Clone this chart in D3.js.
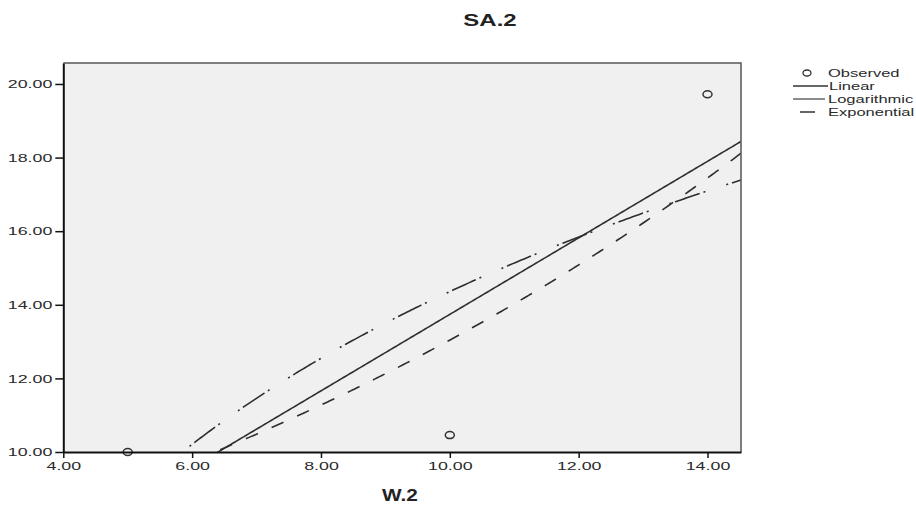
<!DOCTYPE html>
<html>
<head>
<meta charset="utf-8">
<script src="https://cdn.jsdelivr.net/npm/d3@7"></script>
<style>
  html, body { margin: 0; padding: 0; background: #fff; }
  svg { display: block; }
  text { font-family: "Liberation Sans", Arial, sans-serif; }
</style>
</head>
<body>
<svg id="chart" width="916" height="509"></svg>
<script>
// Observed cases
const observedX = [5, 10, 14];
const observedY = [10.0, 10.46, 19.72];

// Axis ticks
const xTicks = [4, 6, 8, 10, 12, 14];
const yTicks = [10, 12, 14, 16, 18, 20];

// Fitted models, legend order
const models = ["Linear", "Logarithmic", "Exponential"];

const sx = 1.55;      // horizontal stretch of tick lettering
const legendSx = 1.5; // horizontal stretch of legend lettering
const svg = d3.select("#chart");

const plotLeft = 63.3, plotRight = 741, plotTop = 63, plotBottom = 452;
const x = d3.scaleLinear().domain([4, 14.52]).range([plotLeft, plotRight]);
const y = d3.scaleLinear().domain([10, 20.57]).range([plotBottom, plotTop]);

// Least squares on transformed variables
function ols(xs, ys) {
  const n = xs.length;
  const mx = d3.mean(xs), my = d3.mean(ys);
  let sxy = 0, sxx = 0;
  for (let i = 0; i < n; i++) {
    sxy += (xs[i] - mx) * (ys[i] - my);
    sxx += (xs[i] - mx) ** 2;
  }
  const b = sxy / sxx;
  return { a: my - b * mx, b };
}
const lin = ols(observedX, observedY);
const lgf = ols(observedX.map(Math.log), observedY);
const exf = ols(observedX, observedY.map(Math.log));
const fitFns = {
  Linear: v => lin.a + lin.b * v,
  Logarithmic: v => lgf.a + lgf.b * Math.log(v),
  Exponential: v => Math.exp(exf.a) * Math.exp(exf.b * v)
};
const dash = {
  Linear: null,
  Logarithmic: "26,4,2,22,2,4",
  Exponential: "13,15"
};

// Plot background
svg.append("rect")
  .attr("x", plotLeft).attr("y", plotTop)
  .attr("width", plotRight - plotLeft).attr("height", plotBottom - plotTop)
  .attr("fill", "#f0f0f0");

svg.append("defs").append("clipPath").attr("id", "plotclip")
  .append("rect")
  .attr("x", plotLeft).attr("y", plotTop)
  .attr("width", plotRight - plotLeft).attr("height", plotBottom - plotTop);

// Fitted curves
const samples = d3.range(0, 301).map(i => 4 + (14.52 - 4) * i / 300);
const line = d3.line().x(d => x(d[0])).y(d => y(d[1]));
const curves = svg.append("g").attr("clip-path", "url(#plotclip)");
models.forEach(m => {
  curves.append("path")
    .datum(samples.map(v => [v, fitFns[m](v)]))
    .attr("d", line)
    .attr("fill", "none")
    .attr("stroke", "#2e2e2e")
    .attr("stroke-width", 1.6)
    .attr("stroke-dasharray", dash[m]);
});

// Observed points
svg.append("g").selectAll("ellipse")
  .data(observedX.map((v, i) => [v, observedY[i]]))
  .join("ellipse")
  .attr("cx", d => x(d[0])).attr("cy", d => y(d[1]))
  .attr("rx", 4.5).attr("ry", 3.5)
  .attr("fill", "none").attr("stroke", "#333").attr("stroke-width", 1.5);

// Frame: top and right
svg.append("path")
  .attr("d", `M${plotLeft},${plotTop}H${plotRight}V${plotBottom}`)
  .attr("fill", "none").attr("stroke", "#555").attr("stroke-width", 1.5);

// Axes
const xAxis = svg.append("g")
  .attr("transform", `translate(0,${plotBottom})`)
  .call(d3.axisBottom(x).tickValues(xTicks).tickFormat(d3.format(".2f"))
    .tickSize(6).tickSizeOuter(0).tickPadding(4));
const yAxis = svg.append("g")
  .attr("transform", `translate(${plotLeft},0)`)
  .call(d3.axisLeft(y).tickValues(yTicks).tickFormat(d3.format(".2f"))
    .tickSize(8).tickSizeOuter(0).tickPadding(3));

[xAxis, yAxis].forEach(g => {
  g.select(".domain").attr("stroke", "#111").attr("stroke-width", 2);
  g.selectAll(".tick line").attr("stroke", "#111").attr("stroke-width", 1.5);
  g.selectAll(".tick text")
    .attr("font-size", 11.5).attr("fill", "#2a2a2a")
    .attr("font-family", "Liberation Sans, Arial, sans-serif");
});
xAxis.selectAll(".tick text").attr("transform", `scale(${sx},1)`);
yAxis.selectAll(".tick text")
  .attr("x", -11 / sx)
  .attr("transform", `scale(${sx},1)`);

// Titles
svg.append("text")
  .attr("transform", `translate(490,26) scale(1.5,1)`)
  .attr("text-anchor", "middle")
  .attr("font-size", 16).attr("font-weight", "bold").attr("fill", "#222")
  .text("SA.2");
svg.append("text")
  .attr("transform", `translate(400,501) scale(1.3,1)`)
  .attr("text-anchor", "middle")
  .attr("font-size", 16).attr("font-weight", "bold").attr("fill", "#222")
  .text("W.2");

// Legend
const legend = svg.append("g");
const rows = ["Observed"].concat(models);
rows.forEach((name, i) => {
  const yy = 73 + i * 13;
  if (name === "Observed") {
    legend.append("ellipse").attr("cx", 807).attr("cy", yy)
      .attr("rx", 4).attr("ry", 3)
      .attr("fill", "none").attr("stroke", "#333").attr("stroke-width", 1.3);
  } else {
    const x0 = name === "Exponential" ? 800 : 793;
    const x1 = name === "Exponential" ? 815 : (name === "Linear" ? 828 : 825);
    legend.append("line")
      .attr("x1", x0).attr("x2", x1).attr("y1", yy).attr("y2", yy)
      .attr("stroke", name === "Logarithmic" ? "#666" : "#333")
      .attr("stroke-width", 1.5);
  }
  legend.append("text")
    .attr("transform", `translate(${name === "Linear" ? 829 : 828},${yy + 4}) scale(${legendSx},1)`)
    .attr("font-size", 11).attr("fill", "#2a2a2a")
    .text(name);
});
</script>
</body>
</html>
